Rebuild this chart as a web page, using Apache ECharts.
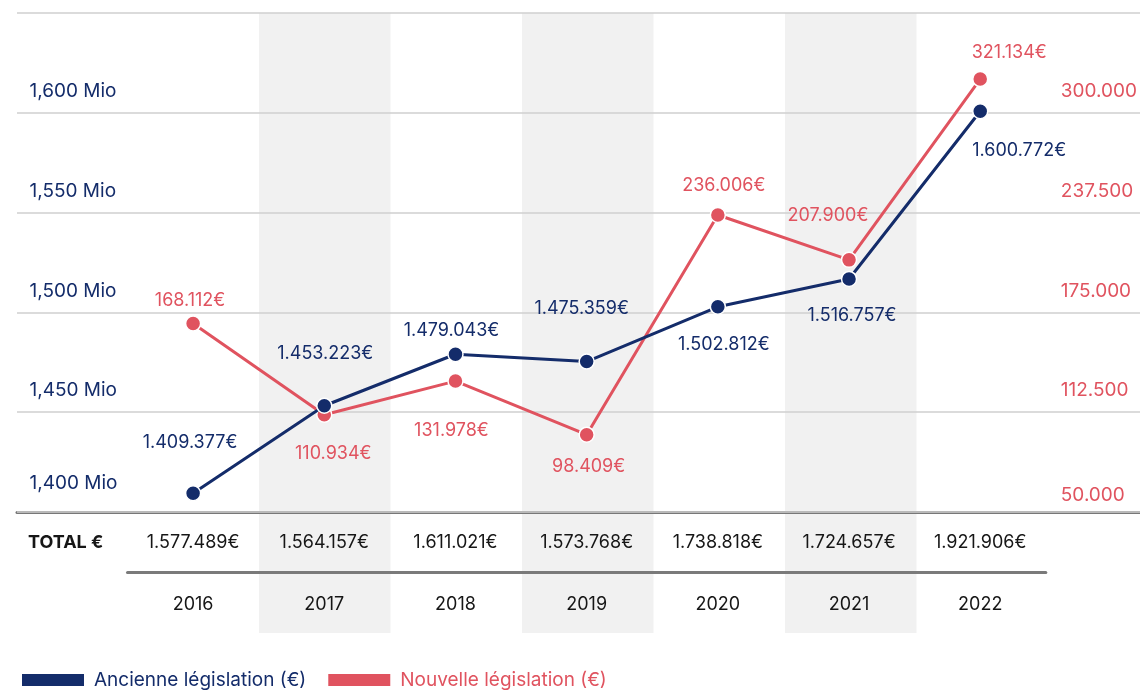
<!DOCTYPE html>
<html>
<head>
<meta charset="utf-8">
<script src="https://cdn.jsdelivr.net/npm/echarts@6/dist/echarts.min.js"></script>
<style>
  html, body { margin: 0; padding: 0; background: #fff; }
  #chart { width: 1140px; height: 693px; }
</style>
</head>
<body>
<div id="chart"></div>
<script>
// Yearly amounts under the old and the new legislation, in euros
const years = ['2016', '2017', '2018', '2019', '2020', '2021', '2022'];
const ancienne = [1409377, 1453223, 1479043, 1475359, 1502812, 1516757, 1600772];
const nouvelle = [168112, 110934, 131978, 98409, 236006, 207900, 321134];
const totals = [1577489, 1564157, 1611021, 1573768, 1738818, 1724657, 1921906];
const seriesNames = ['Ancienne législation (€)', 'Nouvelle législation (€)'];

// Axis ranges (left: old legislation, right: new legislation)
const leftMin = 1400000, leftMax = 1650000, leftStep = 50000;
const rightMin = 50000, rightMax = 362500;

// Pixel nudges for the value tags so they sit clear of the lines
const ancienneLabelShift = [[-3, -51], [1, -52], [-4, -24], [-5, -53], [6, 38], [3, 37], [39, 39]];
const nouvelleLabelShift = [[-3, -23], [9, 39], [-4, 49], [2, 32], [6, -29], [-21, -44], [29, -26]];

const BLUE = '#142c6a';
const RED = '#e0535f';
const INK = '#161616';
const FONT = 'Inter';

function thousands(v) {
  return String(Math.round(v)).replace(/\B(?=(\d{3})+(?!\d))/g, '.');
}
function euro(v) { return thousands(v) + '€'; }
function mio(v) { return (v / 1e6).toFixed(3).replace('.', ',') + ' Mio'; }

function lineSeries(name, values, shifts, color, yAxisIndex, z) {
  return {
    name: name,
    type: 'line',
    xAxisIndex: 0,
    yAxisIndex: yAxisIndex,
    z: z,
    data: values.map((v, i) => ({ value: v, label: { offset: shifts[i] } })),
    symbol: 'circle',
    symbolSize: 15,
    lineStyle: { color: color, width: 3 },
    itemStyle: { color: color, borderColor: '#fff', borderWidth: 1.5 },
    label: {
      show: true,
      position: 'inside',
      color: color,
      fontFamily: FONT,
      fontSize: 18,
      formatter: p => euro(p.value)
    },
    emphasis: { disabled: true },
    animation: false
  };
}

const chart = echarts.init(document.getElementById('chart'), null, { renderer: 'canvas' });

chart.setOption({
  backgroundColor: '#fff',
  animation: false,
  textStyle: { fontFamily: FONT },
  grid: [
    { left: 127.5, right: 92, top: 13, bottom: 181 },   // plot
    { left: 17, right: 0, top: 13, bottom: 181 },       // full-width rules
    { left: 127.5, right: 92, top: 13, bottom: 60 }     // column shading
  ],
  xAxis: [
    {
      gridIndex: 0, type: 'category', data: years,
      axisLine: { show: false }, axisTick: { show: false },
      axisLabel: { margin: 93, verticalAlign: 'middle', color: INK, fontFamily: FONT, fontSize: 18 }
    },
    {
      gridIndex: 0, type: 'category', data: totals.map(euro),
      position: 'bottom', offset: 60,
      axisLine: { show: true, lineStyle: { color: '#7a7a7a', width: 3 } },
      axisTick: { show: false },
      axisLabel: { inside: true, margin: 29, verticalAlign: 'middle', color: INK, fontFamily: FONT, fontSize: 18 }
    },
    {
      gridIndex: 1, type: 'value', min: 0, max: 1,
      axisLine: { show: true, lineStyle: { color: '#777', width: 3 } },
      axisTick: { show: false }, axisLabel: { show: false }, splitLine: { show: false }
    },
    {
      gridIndex: 2, type: 'category', data: years, z: -1,
      axisLine: { show: false }, axisTick: { show: false }, axisLabel: { show: false },
      splitArea: { show: true, areaStyle: { color: ['rgba(0,0,0,0)', '#f1f1f1'] } }
    }
  ],
  yAxis: [
    {
      gridIndex: 0, type: 'value', position: 'left',
      min: leftMin, max: leftMax, interval: leftStep,
      axisLine: { show: false }, axisTick: { show: false }, splitLine: { show: false },
      axisLabel: {
        align: 'left', margin: 98, verticalAlign: 'bottom',
        formatter: v => v >= leftMax ? '' : (v === leftMin ? '{lo|' + mio(v) + '}' : '{n|' + mio(v) + '}'),
        rich: {
          n: { lineHeight: 43, fontSize: 19, fontFamily: FONT, color: BLUE },
          lo: { lineHeight: 58, fontSize: 19, fontFamily: FONT, color: BLUE }
        }
      }
    },
    {
      gridIndex: 0, type: 'value', position: 'right',
      min: rightMin, max: rightMax, alignTicks: true,
      axisLine: { show: false }, axisTick: { show: false }, splitLine: { show: false },
      axisLabel: {
        align: 'left', margin: 15, verticalAlign: 'bottom',
        formatter: v => v >= rightMax ? '' : (v === rightMin ? '{lo|' + thousands(v) + '}' : '{n|' + thousands(v) + '}'),
        rich: {
          n: { lineHeight: 43, fontSize: 19, fontFamily: FONT, color: RED },
          lo: { lineHeight: 34, fontSize: 19, fontFamily: FONT, color: RED }
        }
      }
    },
    {
      gridIndex: 1, type: 'value', min: 0, max: 5, interval: 1, z: 1,
      axisLine: { show: false }, axisTick: { show: false }, axisLabel: { show: false },
      splitLine: { show: true, lineStyle: { color: '#cfcfcf', width: 1.5 } }
    },
    { gridIndex: 2, type: 'value', show: false, min: 0, max: 1 }
  ],
  legend: {
    left: 17, top: 665,
    icon: 'rect', itemWidth: 62, itemHeight: 12, itemGap: 22,
    itemStyle: { borderWidth: 0 },
    textStyle: { fontFamily: FONT, fontSize: 19, lineHeight: 20, padding: [0, 0, 0, 5] },
    data: [
      { name: seriesNames[0], textStyle: { color: BLUE } },
      { name: seriesNames[1], textStyle: { color: RED } }
    ],
    selectedMode: false
  },
  graphic: [
    {
      type: 'text', x: 28, y: 543,
      style: { text: 'TOTAL €', fill: INK, fontFamily: FONT, fontSize: 18, fontWeight: 'bold', verticalAlign: 'middle' }
    }
  ],
  series: [
    lineSeries(seriesNames[1], nouvelle, nouvelleLabelShift, RED, 1, 2),
    lineSeries(seriesNames[0], ancienne, ancienneLabelShift, BLUE, 0, 3)
  ]
});
</script>
</body>
</html>
